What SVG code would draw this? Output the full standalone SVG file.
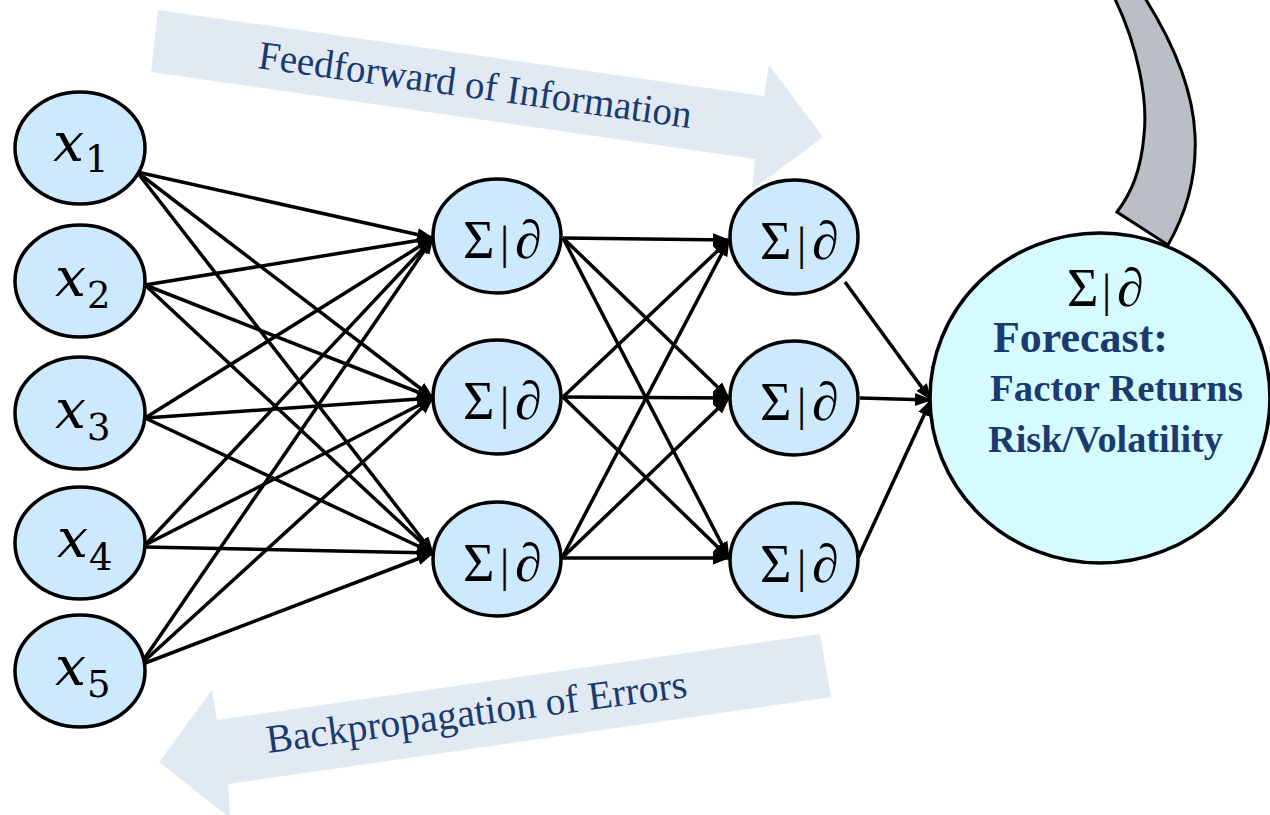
<svg xmlns="http://www.w3.org/2000/svg" width="1270" height="815" viewBox="0 0 1270 815">
  <defs>
    <marker id="head" markerUnits="userSpaceOnUse" markerWidth="17" markerHeight="13" refX="16" refY="6.5" orient="auto">
      <path d="M0,0 L17,6.5 L0,13 z" fill="#000"/>
    </marker>
    <style>
      .band { fill: #e1eaf3; }
      .band-text { font-family: "Liberation Serif", serif; font-size: 40px; fill: #1b3b6f; }
      .in { fill: #cce9fd; stroke: #000; stroke-width: 3.5; }
      .out { fill: #d6fbfe; stroke: #000; stroke-width: 3.5; }
      .xv { font-family: "DejaVu Serif", serif; font-style: italic; font-size: 55px; fill: #000; }
      .xs { font-family: "DejaVu Serif", serif; font-style: normal; font-size: 37px; }
      .sig { font-family: "Liberation Serif", serif; font-size: 54px; fill: #000; }
      .bar { font-size: 46px; }
      .pd { font-size: 54px; font-style: italic; }
      .fc { font-family: "Liberation Serif", serif; font-weight: bold; fill: #1b3b6f; }
      #links line { stroke: #000; stroke-width: 3.5; marker-end: url(#head); }
    </style>
  </defs>
  <rect width="1270" height="815" fill="#fff"/>

  <!-- direction bands -->
  <g id="feedforward">
    <polygon class="band" points="158,10 764,96 769,65 823,137 752,190 755,159 151,72"/>
    <text class="band-text" transform="translate(257,68) rotate(7.9)" textLength="437" lengthAdjust="spacingAndGlyphs">Feedforward of Information</text>
  </g>
  <g id="backprop">
    <polygon class="band" points="820,634 831,697 228,784 230,818 159,762 212,690 217,720"/>
    <text class="band-text" transform="translate(268,753) rotate(-7.6)" textLength="424" lengthAdjust="spacingAndGlyphs">Backpropagation of Errors</text>
  </g>

  <!-- feedback bar entering the output node -->
  <g id="feedback">
    <path d="M1113,-5 C1138,45 1148,100 1144,135 C1141,170 1132,192 1117,212 L1168,245 C1188,210 1197,175 1195,135 C1193,90 1175,45 1143,-5 Z" fill="#b9bfc5" stroke="#000" stroke-width="3"/>
  </g>

  <!-- connectors -->
  <g id="links">
    <line x1="137" y1="172" x2="433" y2="238"/>
    <line x1="137" y1="172" x2="433" y2="398"/>
    <line x1="137" y1="172" x2="433" y2="553"/>
    <line x1="145" y1="285" x2="433" y2="238"/>
    <line x1="145" y1="285" x2="433" y2="398"/>
    <line x1="145" y1="285" x2="433" y2="553"/>
    <line x1="145" y1="418" x2="433" y2="238"/>
    <line x1="145" y1="418" x2="433" y2="398"/>
    <line x1="145" y1="418" x2="433" y2="553"/>
    <line x1="145" y1="545" x2="433" y2="238"/>
    <line x1="145" y1="545" x2="433" y2="398"/>
    <line x1="145" y1="547" x2="433" y2="553"/>
    <line x1="140" y1="665" x2="433" y2="238"/>
    <line x1="140" y1="665" x2="433" y2="398"/>
    <line x1="140" y1="665" x2="433" y2="553"/>

    <line x1="563" y1="238" x2="729" y2="240"/>
    <line x1="563" y1="238" x2="729" y2="398"/>
    <line x1="563" y1="238" x2="729" y2="558"/>
    <line x1="563" y1="397" x2="729" y2="240"/>
    <line x1="563" y1="397" x2="729" y2="398"/>
    <line x1="563" y1="397" x2="729" y2="558"/>
    <line x1="562" y1="558" x2="729" y2="240"/>
    <line x1="562" y1="558" x2="729" y2="398"/>
    <line x1="562" y1="558" x2="729" y2="558"/>

    <line x1="845" y1="282" x2="931" y2="400"/>
    <line x1="860" y1="398" x2="931" y2="400"/>
    <line x1="858" y1="558" x2="931" y2="400"/>
  </g>

  <!-- input layer -->
  <g id="x1"><ellipse class="in" cx="80" cy="148" rx="65" ry="56"/>
    <text class="xv" x="53" y="161">x<tspan class="xs" dx="1" dy="11">1</tspan></text></g>
  <g id="x2"><ellipse class="in" cx="80" cy="281" rx="65" ry="56"/>
    <text class="xv" x="55" y="296">x<tspan class="xs" dx="1" dy="12">2</tspan></text></g>
  <g id="x3"><ellipse class="in" cx="80" cy="413" rx="65" ry="56"/>
    <text class="xv" x="55" y="428">x<tspan class="xs" dx="1" dy="12">3</tspan></text></g>
  <g id="x4"><ellipse class="in" cx="80" cy="543" rx="65" ry="56"/>
    <text class="xv" x="57" y="557">x<tspan class="xs" dx="1" dy="13">4</tspan></text></g>
  <g id="x5"><ellipse class="in" cx="80" cy="671" rx="65" ry="56"/>
    <text class="xv" x="55" y="685">x<tspan class="xs" dx="1" dy="12">5</tspan></text></g>

  <!-- first hidden layer -->
  <g id="h1a"><ellipse class="in" cx="497" cy="236" rx="64" ry="57"/>
    <text class="sig" x="463" y="258">Σ<tspan class="bar" x="500">|</tspan><tspan class="pd" x="515">∂</tspan></text></g>
  <g id="h1b"><ellipse class="in" cx="497" cy="397" rx="64" ry="57"/>
    <text class="sig" x="463" y="419">Σ<tspan class="bar" x="500">|</tspan><tspan class="pd" x="515">∂</tspan></text></g>
  <g id="h1c"><ellipse class="in" cx="497" cy="559" rx="64" ry="57"/>
    <text class="sig" x="463" y="581">Σ<tspan class="bar" x="500">|</tspan><tspan class="pd" x="515">∂</tspan></text></g>

  <!-- second hidden layer -->
  <g id="h2a"><ellipse class="in" cx="794" cy="237" rx="64" ry="57"/>
    <text class="sig" x="760" y="259">Σ<tspan class="bar" x="797">|</tspan><tspan class="pd" x="812">∂</tspan></text></g>
  <g id="h2b"><ellipse class="in" cx="794" cy="398" rx="64" ry="57"/>
    <text class="sig" x="760" y="420">Σ<tspan class="bar" x="797">|</tspan><tspan class="pd" x="812">∂</tspan></text></g>
  <g id="h2c"><ellipse class="in" cx="794" cy="560" rx="64" ry="57"/>
    <text class="sig" x="760" y="582">Σ<tspan class="bar" x="797">|</tspan><tspan class="pd" x="812">∂</tspan></text></g>

  <!-- output node -->
  <g id="output"><ellipse class="out" cx="1100" cy="398" rx="170" ry="165"/>
    <text class="sig" x="1067" y="306">Σ<tspan class="bar" x="1102">|</tspan><tspan class="pd" x="1117">∂</tspan></text>
    <text class="fc" x="993" y="352" font-size="44" textLength="175" lengthAdjust="spacingAndGlyphs">Forecast:</text>
    <text class="fc" x="990" y="401" font-size="37" textLength="253" lengthAdjust="spacingAndGlyphs">Factor Returns</text>
    <text class="fc" x="988" y="452" font-size="37" textLength="235" lengthAdjust="spacingAndGlyphs">Risk/Volatility</text>
  </g>
</svg>
